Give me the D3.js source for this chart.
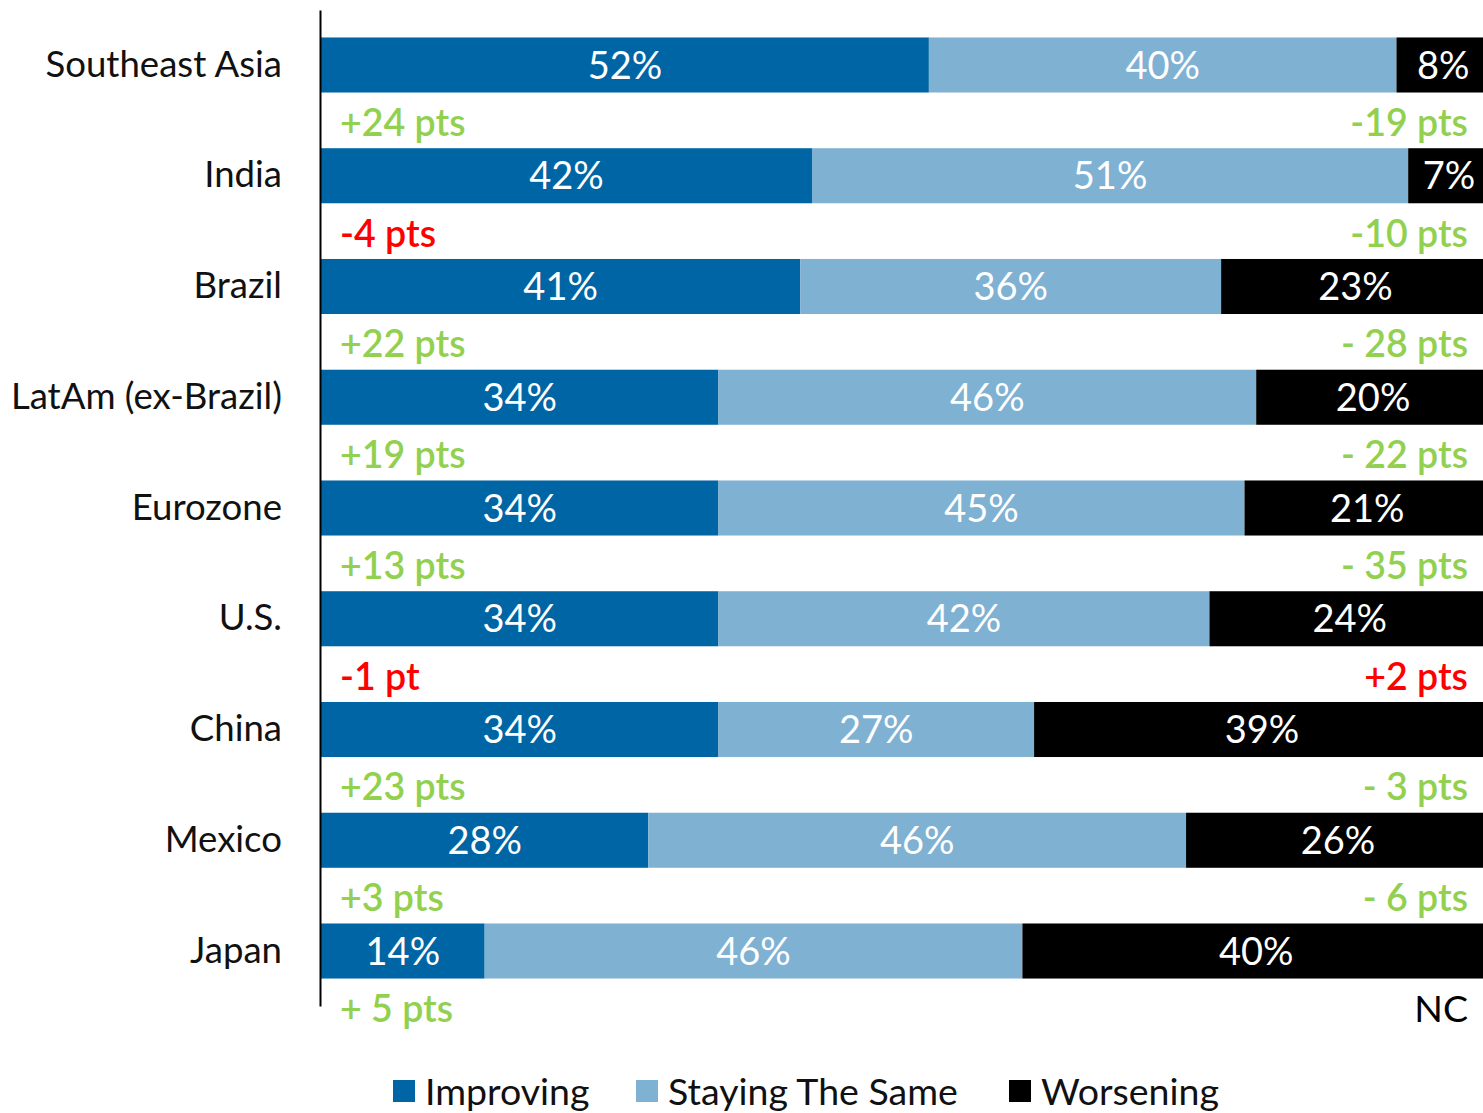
<!DOCTYPE html>
<html>
<head>
<meta charset="utf-8">
<script src="https://cdn.jsdelivr.net/npm/d3@7"></script>
<style>
  html, body { margin: 0; padding: 0; background: #fff; }
  svg { display: block; }
  text { font-family: Futura, "Century Gothic", Lato, sans-serif; }
</style>
</head>
<body>
<svg id="chart" width="1483" height="1113"></svg>
<script>
const regions = ["Southeast Asia", "India", "Brazil", "LatAm (ex-Brazil)", "Eurozone", "U.S.", "China", "Mexico", "Japan"];
const improving = [52, 42, 41, 34, 34, 34, 34, 28, 14];
const staying = [40, 51, 36, 46, 45, 42, 27, 46, 46];
const worsening = [8, 7, 23, 20, 21, 24, 39, 26, 40];
const improvingChange = ["+24 pts", "-4 pts", "+22 pts", "+19 pts", "+13 pts", "-1 pt", "+23 pts", "+3 pts", "+ 5 pts"];
const worseningChange = ["-19 pts", "-10 pts", "- 28 pts", "- 22 pts", "- 35 pts", "+2 pts", "- 3 pts", "- 6 pts", "NC"];
const seriesNames = ["Improving", "Staying The Same", "Worsening"];

const width = 1483;
const height = 1113;
const colors = ["#0065a4", "#7fb1d3", "#000000"];
const green = "#92d050";
const red = "#ff0000";

const rows = regions.map((region, i) => ({
  region,
  Improving: improving[i],
  "Staying The Same": staying[i],
  Worsening: worsening[i],
}));

const stacked = d3.stack().keys(seriesNames)(rows);

const x = d3.scaleLinear().domain([0, 100]).range([321, 1490]);
const y = d3.scaleBand().domain(regions).range([10, 1006]).paddingInner(0.503).paddingOuter(0.248);

const svg = d3.select("#chart");

// stacked segments
const layer = svg.append("g")
  .selectAll("g")
  .data(stacked)
  .join("g")
  .attr("fill", (d, i) => colors[i]);

layer.selectAll("rect")
  .data((d) => d)
  .join("rect")
  .attr("x", (d) => x(d[0]))
  .attr("y", (d) => y(d.data.region))
  .attr("width", (d) => x(d[1]) - x(d[0]))
  .attr("height", y.bandwidth());

// percentage labels in each segment
layer.selectAll("text")
  .data((d) => d)
  .join("text")
  .attr("x", (d) => (x(d[0]) + x(d[1])) / 2)
  .attr("y", (d) => y(d.data.region) + y.bandwidth() / 2)
  .attr("dy", "0.36em")
  .attr("text-anchor", "middle")
  .attr("fill", "#fff")
  .attr("font-size", 38)
  .text((d) => `${d[1] - d[0]}%`);

// vertical axis line with region names
const yAxis = svg.append("g")
  .attr("transform", "translate(320,0)")
  .call(d3.axisLeft(y).tickSize(0).tickPadding(38).tickSizeOuter(0));
yAxis.select(".domain").attr("stroke", "#000").attr("stroke-width", 2);
yAxis.selectAll("text")
  .attr("font-size", 36.6)
  .attr("fill", "#111")
  .style("font-family", 'Futura, "Century Gothic", Lato, sans-serif');

// year-on-year change notes under each bar
const gap = (y.step() - y.bandwidth()) / 2;
const noteY = (region) => y(region) + y.bandwidth() + gap + 2;

svg.append("g")
  .selectAll("text")
  .data(regions)
  .join("text")
  .attr("x", x(0) + 19)
  .attr("y", (d) => noteY(d))
  .attr("dy", "0.36em")
  .attr("font-size", 37.5)
  .attr("font-weight", 600)
  .attr("fill", (d, i) => (improvingChange[i].startsWith("-") ? red : green))
  .text((d, i) => improvingChange[i]);

svg.append("g")
  .selectAll("text")
  .data(regions)
  .join("text")
  .attr("x", 1468)
  .attr("y", (d) => noteY(d))
  .attr("dy", "0.36em")
  .attr("text-anchor", "end")
  .attr("font-size", 37.5)
  .attr("font-weight", (d, i) => (worseningChange[i] === "NC" ? 400 : 600))
  .attr("fill", (d, i) => {
    const t = worseningChange[i];
    if (t === "NC") return "#000";
    return t.startsWith("+") ? red : green;
  })
  .text((d, i) => worseningChange[i]);

// legend
const legendX = [393, 636, 1009];
const legend = svg.append("g")
  .selectAll("g")
  .data(seriesNames)
  .join("g")
  .attr("transform", (d, i) => `translate(${legendX[i]},1080)`);

legend.append("rect")
  .attr("width", 22)
  .attr("height", 22)
  .attr("fill", (d, i) => colors[i]);

legend.append("text")
  .attr("x", 32)
  .attr("y", 11)
  .attr("dy", "0.36em")
  .attr("font-size", 37.5)
  .attr("fill", "#111")
  .text((d) => d);
</script>
</body>
</html>
